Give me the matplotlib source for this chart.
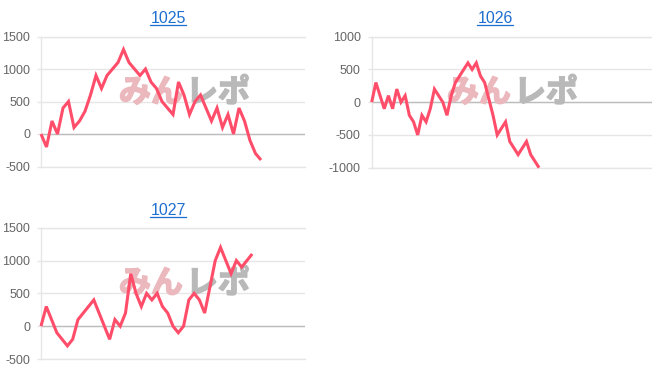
import matplotlib
matplotlib.use('Agg')
import matplotlib.pyplot as plt
from matplotlib.lines import Line2D
import matplotlib.patheffects as pe

plt.rcParams['font.family'] = ['Liberation Sans', 'DejaVu Sans']

# ---- data ----
titles = ['1025', '1026', '1027']
series_1025 = [0, -200, 200, 0, 400, 500, 100, 200, 350, 600, 900, 700, 900, 1000, 1100,
               1300, 1100, 1000, 900, 1000, 800, 700, 500, 400, 300, 800, 600, 300, 500,
               600, 400, 200, 400, 100, 300, 0, 400, 200, -100, -300, -400]
series_1026 = [0, 300, 100, -100, 100, -100, 200, 0, 100, -200, -300, -500, -200, -300,
               -100, 200, 100, 0, -200, 100, 300, 400, 500, 600, 500, 600, 400, 300, 50,
               -200, -500, -400, -300, -600, -700, -800, -700, -600, -800, -900, -1000]
series_1027 = [0, 300, 100, -100, -200, -300, -200, 100, 200, 300, 400, 200, 0, -200, 100,
               0, 200, 800, 500, 300, 500, 400, 500, 300, 200, 0, -100, 0, 400, 500, 400,
               200, 600, 1000, 1200, 1000, 800, 1000, 900, 1000, 1100]
x_slots = [48, 67, 50]
yticks_1025 = [-500, 0, 500, 1000, 1500]
yticks_1026 = [-1000, -500, 0, 500, 1000]
yticks_1027 = [-500, 0, 500, 1000, 1500]
watermark_a = 'みん'
watermark_b = 'レポ'

series = [series_1025, series_1026, series_1027]
yticks = [yticks_1025, yticks_1026, yticks_1027]

# ---- layout (pixels) ----
W, H = 652, 382
fig = plt.figure(figsize=(W / 100, H / 100), dpi=100)


def rect(l, r, t, b):
    return [l / W, 1 - b / H, (r - l) / W, (b - t) / H]


axes_px = [(41, 305, 36.5, 166.5), (371.7, 652, 36.7, 167.7), (41, 305, 227.7, 359)]
title_px = [(168, 23.3), (495, 23.3), (168, 215)]
wm_px = [(184, 93), (512, 93), (184, 284)]

LINE = '#ff4d6a'
GRID = '#e6e6e6'
ZERO = '#bdbdbd'
TITLE = '#1f6fd0'
WM_A = '#ebb9bd'
WM_B = '#b9b9b9'

title_texts = []
for i in range(3):
    ax = fig.add_axes(rect(*axes_px[i]))
    s = series[i]
    yt = yticks[i]
    ax.plot(range(len(s)), s, color=LINE, lw=2.2, solid_joinstyle='miter',
            solid_capstyle='butt', clip_on=False, zorder=4)
    ax.set_xlim(0, x_slots[i])
    ax.set_ylim(min(yt), max(yt))
    ax.set_yticks(yt)
    ax.set_yticklabels([str(v) for v in yt])
    ax.set_xticks([])
    ax.grid(axis='y', color=GRID, lw=1, zorder=1)
    ax.axhline(0, color=ZERO, lw=1, zorder=1.6)
    for side in ['top', 'bottom', 'left']:
        ax.spines[side].set_color(GRID)
        ax.spines[side].set_linewidth(1)
    ax.spines['right'].set_visible(False)
    ax.tick_params(axis='y', length=3.2, width=1, color=GRID, labelsize=9,
                   labelcolor='#666666', pad=4.6)
    ax.set_facecolor('none')

    # watermark
    wx, wy = wm_px[i]
    ax.text((wx - 1) / W, 1 - wy / H, watermark_a, transform=fig.transFigure, ha='right',
            va='center', fontsize=23, fontweight='bold', color=WM_A,
            family=['Noto Sans CJK JP'], zorder=2, clip_on=False,
            path_effects=[pe.withStroke(linewidth=1.2, foreground=WM_A)])
    ax.text((wx + 2) / W, 1 - wy / H, watermark_b, transform=fig.transFigure, ha='left',
            va='center', fontsize=23, fontweight='bold', color=WM_B,
            family=['Noto Sans CJK JP'], zorder=2, clip_on=False,
            path_effects=[pe.withStroke(linewidth=1.2, foreground=WM_B)])

    tx, ty = title_px[i]
    t = fig.text(tx / W, 1 - ty / H, titles[i], ha='center', va='baseline',
                 fontsize=11.5, color=TITLE)
    title_texts.append((t, ty))

fig.canvas.draw()
renderer = fig.canvas.get_renderer()
for t, ty in title_texts:
    bb = t.get_window_extent(renderer)
    yline = 1 - (ty + 1.5) / H
    fig.add_artist(Line2D([bb.x0 / W, bb.x1 / W], [yline, yline],
                          transform=fig.transFigure, color=TITLE, lw=0.9))

fig.savefig('out.png', dpi=100)
